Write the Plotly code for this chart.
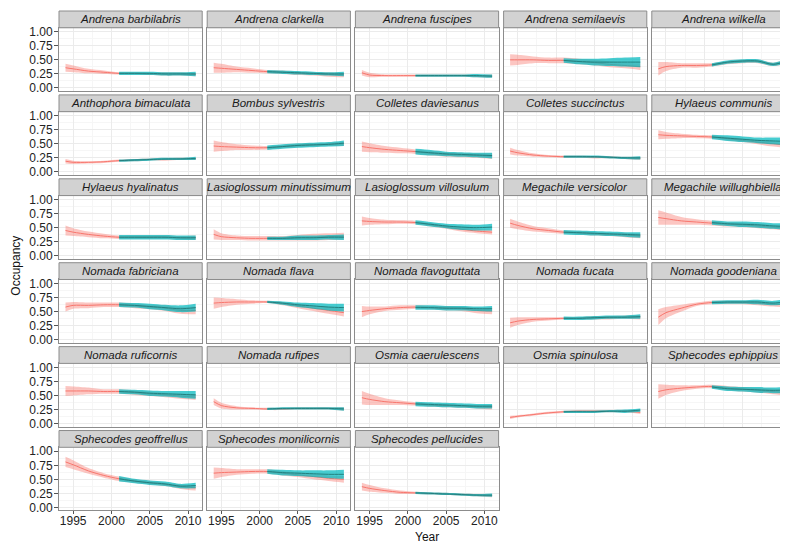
import plotly.graph_objects as go

SPECIES = [
    "Andrena barbilabris", "Andrena clarkella", "Andrena fuscipes", "Andrena semilaevis", "Andrena wilkella",
    "Anthophora bimaculata", "Bombus sylvestris", "Colletes daviesanus", "Colletes succinctus", "Hylaeus communis",
    "Hylaeus hyalinatus", "Lasioglossum minutissimum", "Lasioglossum villosulum", "Megachile versicolor", "Megachile willughbiella",
    "Nomada fabriciana", "Nomada flava", "Nomada flavoguttata", "Nomada fucata", "Nomada goodeniana",
    "Nomada ruficornis", "Nomada rufipes", "Osmia caerulescens", "Osmia spinulosa", "Sphecodes ephippius",
    "Sphecodes geoffrellus", "Sphecodes monilicornis", "Sphecodes pellucides",
]

RED_YEARS = [1994, 1995, 1997, 1999, 2001, 2003, 2005, 2007, 2009, 2011]
TEAL_YEARS = [2001, 2003, 2005, 2007, 2009, 2011]

RED_MEAN = [
    [.36, .34, .30, .28, .26, .26, .25, .25, .25, .24],
    [.36, .35, .33, .31, .29, .28, .26, .25, .24, .23],
    [.27, .23, .22, .22, .22, .22, .22, .22, .21, .21],
    [.50, .50, .50, .49, .49, .47, .45, .42, .40, .38],
    [.34, .38, .40, .40, .41, .45, .47, .47, .42, .48],
    [.19, .17, .17, .18, .20, .21, .22, .22, .23, .23],
    [.46, .45, .44, .43, .43, .45, .47, .48, .49, .50],
    [.45, .43, .40, .38, .36, .33, .31, .30, .29, .28],
    [.37, .34, .30, .28, .27, .27, .26, .26, .25, .24],
    [.66, .65, .64, .63, .62, .59, .56, .53, .50, .47],
    [.45, .42, .38, .35, .33, .33, .33, .33, .32, .32],
    [.38, .34, .32, .31, .31, .31, .32, .33, .34, .35],
    [.62, .61, .60, .60, .59, .55, .51, .47, .44, .42],
    [.58, .54, .48, .45, .42, .41, .39, .38, .37, .35],
    [.68, .66, .62, .60, .58, .56, .55, .53, .51, .49],
    [.58, .61, .61, .62, .62, .60, .58, .56, .52, .52],
    [.65, .66, .67, .67, .67, .64, .60, .56, .52, .48],
    [.50, .52, .55, .57, .58, .57, .56, .55, .52, .51],
    [.30, .33, .36, .37, .38, .38, .39, .39, .40, .40],
    [.40, .48, .56, .63, .66, .66, .66, .65, .63, .62],
    [.58, .58, .58, .57, .57, .55, .53, .51, .49, .47],
    [.39, .32, .28, .27, .26, .26, .27, .27, .27, .26],
    [.46, .43, .39, .37, .35, .33, .32, .31, .30, .29],
    [.11, .13, .16, .19, .21, .22, .22, .22, .22, .20],
    [.57, .60, .63, .65, .66, .63, .61, .59, .57, .55],
    [.81, .76, .65, .57, .51, .47, .44, .41, .37, .35],
    [.61, .62, .63, .64, .64, .61, .58, .55, .52, .50],
    [.37, .34, .30, .27, .26, .25, .24, .23, .22, .21],
]

RED_HALF = [
    [.07, .06, .04, .03, .02, .02, .02, .03, .03, .03],
    [.09, .08, .05, .04, .03, .03, .03, .03, .04, .04],
    [.05, .04, .02, .02, .02, .02, .02, .02, .02, .03],
    [.10, .09, .06, .05, .05, .05, .05, .05, .05, .06],
    [.12, .08, .04, .04, .03, .03, .03, .03, .03, .04],
    [.04, .03, .02, .02, .02, .02, .02, .02, .02, .02],
    [.10, .08, .05, .04, .03, .03, .03, .03, .03, .04],
    [.09, .08, .06, .05, .04, .04, .04, .04, .04, .05],
    [.06, .05, .03, .02, .02, .02, .02, .02, .02, .03],
    [.08, .06, .04, .03, .03, .03, .03, .04, .05, .05],
    [.09, .07, .05, .04, .03, .03, .03, .03, .03, .04],
    [.09, .06, .04, .04, .04, .04, .05, .06, .06, .06],
    [.08, .06, .04, .03, .03, .03, .03, .04, .04, .04],
    [.08, .07, .05, .04, .03, .03, .03, .03, .04, .04],
    [.13, .11, .07, .05, .04, .04, .04, .04, .04, .05],
    [.08, .06, .05, .04, .04, .04, .04, .05, .06, .07],
    [.10, .08, .05, .03, .02, .03, .04, .05, .06, .07],
    [.10, .07, .04, .04, .03, .03, .04, .04, .05, .06],
    [.09, .07, .04, .03, .02, .02, .03, .03, .03, .04],
    [.14, .10, .06, .03, .03, .03, .03, .04, .04, .05],
    [.09, .08, .06, .04, .04, .04, .04, .04, .05, .05],
    [.06, .05, .03, .02, .02, .02, .02, .02, .02, .03],
    [.12, .10, .06, .04, .03, .03, .03, .03, .03, .04],
    [.03, .02, .02, .02, .02, .02, .02, .02, .02, .03],
    [.13, .09, .05, .03, .03, .04, .04, .04, .05, .05],
    [.09, .08, .05, .04, .04, .03, .03, .03, .04, .05],
    [.10, .08, .05, .04, .04, .04, .04, .05, .05, .06],
    [.07, .06, .04, .03, .02, .02, .02, .02, .02, .03],
]

TEAL_MEAN = [
    [.26, .26, .26, .25, .25, .25],
    [.29, .28, .27, .26, .25, .25],
    [.22, .22, .22, .22, .22, .21],
    [.49, .47, .46, .46, .46, .46],
    [.41, .46, .48, .48, .42, .49],
    [.20, .21, .22, .23, .23, .24],
    [.43, .45, .47, .48, .49, .51],
    [.36, .34, .32, .31, .30, .29],
    [.27, .27, .27, .26, .25, .25],
    [.62, .60, .58, .56, .55, .54],
    [.33, .33, .33, .33, .32, .32],
    [.31, .31, .32, .32, .33, .33],
    [.59, .56, .53, .51, .50, .51],
    [.42, .41, .40, .39, .38, .37],
    [.59, .57, .56, .55, .53, .52],
    [.62, .61, .59, .57, .55, .57],
    [.67, .65, .62, .60, .58, .57],
    [.57, .57, .56, .56, .55, .55],
    [.38, .38, .39, .40, .40, .41],
    [.66, .67, .67, .67, .65, .68],
    [.57, .56, .54, .53, .52, .51],
    [.26, .27, .27, .27, .27, .26],
    [.35, .34, .33, .32, .31, .31],
    [.21, .21, .21, .22, .22, .24],
    [.65, .62, .61, .60, .59, .60],
    [.51, .47, .44, .42, .38, .39],
    [.64, .62, .61, .60, .59, .59],
    [.26, .25, .24, .23, .22, .22],
]

TEAL_HALF = [
    [.03, .03, .03, .03, .03, .04],
    [.03, .03, .03, .03, .03, .04],
    [.02, .02, .02, .02, .03, .03],
    [.04, .05, .06, .07, .08, .09],
    [.03, .03, .03, .03, .03, .04],
    [.02, .02, .02, .02, .02, .03],
    [.04, .04, .04, .04, .04, .05],
    [.05, .05, .04, .04, .04, .05],
    [.02, .02, .02, .02, .02, .03],
    [.04, .05, .05, .05, .06, .07],
    [.04, .04, .04, .04, .04, .04],
    [.03, .03, .04, .04, .04, .05],
    [.04, .04, .04, .05, .05, .06],
    [.04, .04, .04, .04, .04, .05],
    [.04, .04, .05, .05, .05, .06],
    [.04, .04, .05, .05, .06, .07],
    [.02, .03, .04, .05, .06, .07],
    [.04, .04, .04, .04, .04, .05],
    [.03, .03, .03, .03, .03, .04],
    [.03, .03, .03, .04, .04, .05],
    [.04, .04, .05, .05, .06, .07],
    [.02, .02, .02, .02, .02, .03],
    [.04, .04, .04, .04, .04, .04],
    [.02, .02, .02, .02, .03, .03],
    [.03, .04, .04, .05, .05, .06],
    [.05, .04, .04, .04, .04, .05],
    [.04, .05, .05, .06, .07, .08],
    [.02, .02, .02, .02, .02, .03],
]

X_TICKS = [1995, 2000, 2005, 2010]
Y_TICKS = [0, 0.25, 0.5, 0.75, 1.0]
Y_TICKTEXT = ["0.00", "0.25", "0.50", "0.75", "1.00"]

W, H = 788, 543
NCOL = 5
PANEL_W = 143.2
COL_STEP = 148.2
LEFT = 51
ROW_STEP = 85
STRIP_H = 17
PANEL_H = 64

FONT = "Liberation Sans, Arial, Helvetica, sans-serif"
RED = "#F8766D"
RED_FILL = "rgba(248,118,109,0.42)"
TEAL_FILL = "rgba(0,185,190,0.72)"
TEAL_LINE = "#23807F"
GRID = "#EBEBEB"
MINOR = "#F6F6F6"
BORDER = "#8C8C8C"
STRIP_FILL = "#D2D2D2"

fig = go.Figure()
shapes = []
annotations = []
n = len(SPECIES)
nrow = (n + NCOL - 1) // NCOL

for i, name in enumerate(SPECIES):
    r, c = divmod(i, NCOL)
    ax = "" if i == 0 else str(i + 1)
    x0 = LEFT + c * COL_STEP
    x1 = x0 + PANEL_W
    strip_top = r * ROW_STEP
    ptop = strip_top + STRIP_H
    pbot = ptop + PANEL_H
    xd = [x0 / W, x1 / W]
    yd = [1 - pbot / H, 1 - ptop / H]

    show_x = r == nrow - 1
    show_y = c == 0

    fig.layout["xaxis" + ax] = dict(
        domain=xd, anchor="y" + ax, range=[1993.15, 2011.85],
        tickvals=X_TICKS, showticklabels=show_x,
        ticks="outside" if show_x else "", ticklen=3, tickcolor="#555555",
        ticklabelstandoff=-4,
        tickfont=dict(family=FONT, size=12, color="#222222"),
        showgrid=True, gridcolor=GRID, gridwidth=1,
        minor=dict(tickvals=[1997.5, 2002.5, 2007.5], showgrid=True, gridcolor=MINOR),
        zeroline=False, showline=True, mirror=True, linecolor=BORDER, linewidth=1,
        fixedrange=True,
    )
    fig.layout["yaxis" + ax] = dict(
        domain=yd, anchor="x" + ax, range=[-0.053, 1.07],
        tickvals=Y_TICKS, ticktext=Y_TICKTEXT, showticklabels=show_y,
        ticks="outside" if show_y else "", ticklen=4, tickcolor="#555555",
        ticklabelstandoff=-1,
        tickfont=dict(family=FONT, size=12, color="#222222"),
        showgrid=True, gridcolor=GRID, gridwidth=1,
        minor=dict(tickvals=[0.125, 0.375, 0.625, 0.875], showgrid=True, gridcolor=MINOR),
        zeroline=False, showline=True, mirror=True, linecolor=BORDER, linewidth=1,
        fixedrange=True,
    )

    xa, ya = "x" + ax, "y" + ax
    rm, rh = RED_MEAN[i], RED_HALF[i]
    tm, th = TEAL_MEAN[i], TEAL_HALF[i]
    line_kw = dict(shape="spline", smoothing=0.8)

    fig.add_trace(go.Scatter(x=RED_YEARS, y=[m - h for m, h in zip(rm, rh)], mode="lines",
                             line=dict(width=0, **line_kw), xaxis=xa, yaxis=ya,
                             showlegend=False, hoverinfo="skip"))
    fig.add_trace(go.Scatter(x=RED_YEARS, y=[m + h for m, h in zip(rm, rh)], mode="lines",
                             line=dict(width=0, **line_kw), fill="tonexty", fillcolor=RED_FILL,
                             xaxis=xa, yaxis=ya, showlegend=False, hoverinfo="skip"))
    fig.add_trace(go.Scatter(x=RED_YEARS, y=rm, mode="lines",
                             line=dict(width=1, color=RED, **line_kw),
                             xaxis=xa, yaxis=ya, showlegend=False))
    fig.add_trace(go.Scatter(x=TEAL_YEARS, y=[m - h for m, h in zip(tm, th)], mode="lines",
                             line=dict(width=0, **line_kw), xaxis=xa, yaxis=ya,
                             showlegend=False, hoverinfo="skip"))
    fig.add_trace(go.Scatter(x=TEAL_YEARS, y=[m + h for m, h in zip(tm, th)], mode="lines",
                             line=dict(width=0, **line_kw), fill="tonexty", fillcolor=TEAL_FILL,
                             xaxis=xa, yaxis=ya, showlegend=False, hoverinfo="skip"))
    fig.add_trace(go.Scatter(x=TEAL_YEARS, y=tm, mode="lines",
                             line=dict(width=1, color=TEAL_LINE, **line_kw),
                             xaxis=xa, yaxis=ya, showlegend=False))

    # strip
    shapes.append(dict(type="rect", xref="paper", yref="paper",
                       x0=x0 / W, x1=x1 / W, y0=1 - ptop / H, y1=1 - strip_top / H,
                       fillcolor=STRIP_FILL, line=dict(color=BORDER, width=1), layer="above"))
    annotations.append(dict(text="<i>" + name + "</i>", xref="paper", yref="paper",
                            x=(x0 + x1) / 2 / W, y=1 - (strip_top + STRIP_H / 2) / H,
                            xanchor="center", yanchor="middle", showarrow=False,
                            font=dict(family=FONT, size=11.5, color="#1A1A1A")))

annotations.append(dict(text="Occupancy", xref="paper", yref="paper", x=8 / W, y=1 - 258 / H,
                        textangle=-90, showarrow=False, xanchor="center", yanchor="middle",
                        font=dict(family=FONT, size=12, color="#111111")))
annotations.append(dict(text="Year", xref="paper", yref="paper", x=419 / W, y=1 - 533 / H,
                        showarrow=False, xanchor="center", yanchor="middle",
                        font=dict(family=FONT, size=12, color="#111111")))

fig.update_layout(
    width=W, height=H, margin=dict(l=0, r=0, t=0, b=0),
    paper_bgcolor="white", plot_bgcolor="white",
    shapes=shapes, annotations=annotations, showlegend=False,
)

fig.write_html("out.html")
